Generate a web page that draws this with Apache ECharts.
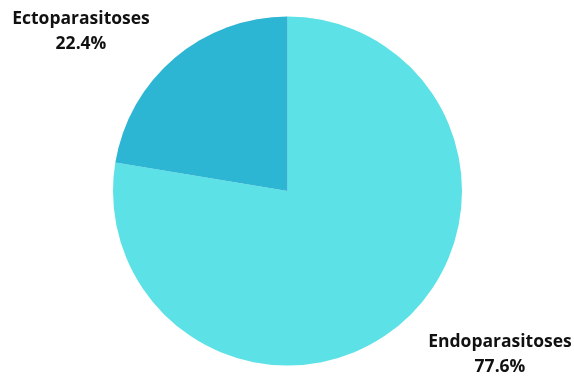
<!DOCTYPE html>
<html>
<head>
<meta charset="utf-8">
<script src="https://cdn.jsdelivr.net/npm/echarts@6/dist/echarts.min.js"></script>
<style>
  html, body { margin: 0; padding: 0; background: #ffffff; }
  #chart { width: 574px; height: 376px; }
</style>
</head>
<body>
<div id="chart"></div>
<script>
// Share of parasitoses by type
const categories = ['Endoparasitoses', 'Ectoparasitoses'];
const shares = [77.6, 22.4];
const colors = ['#5ce1e6', '#2db5d4'];

// Label anchor points (pixels) for each slice's caption
const labelSpots = [
  { x: 500, y: 355 },
  { x: 81, y: 32 }
];

const chart = echarts.init(document.getElementById('chart'), null, { renderer: 'canvas' });

chart.setOption({
  animation: false,
  series: [{
    type: 'pie',
    center: [287.5, 191],
    radius: [0, 174.5],
    startAngle: 90,
    clockwise: true,
    silent: true,
    data: categories.map((name, i) => ({
      name: name,
      value: shares[i],
      itemStyle: { color: colors[i] }
    })),
    label: {
      show: true,
      position: 'outside',
      alignTo: 'none',
      overflow: 'none',
      width: 200,
      formatter: '{b}\n{d}%',
      fontFamily: '"Open Sans", sans-serif',
      fontWeight: 'bold',
      fontSize: 17.5,
      lineHeight: 25,
      color: '#111111',
      align: 'center'
    },
    labelLine: { show: false },
    labelLayout: function (params) {
      const spot = labelSpots[params.dataIndex];
      return { x: spot.x, y: spot.y, align: 'center', verticalAlign: 'middle' };
    }
  }]
});
</script>
</body>
</html>
